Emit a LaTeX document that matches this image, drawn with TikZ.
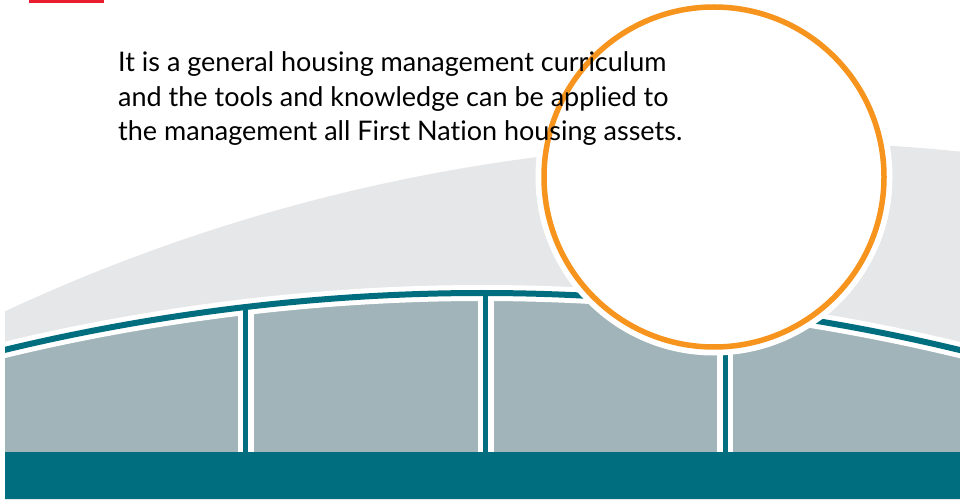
\documentclass[tikz,border=0pt]{standalone}
\usepackage{fontspec}
\setmainfont{Lato}[Ligatures=NoCommon]
\usepackage{tikz}
\usetikzlibrary{positioning}

\definecolor{archteal}{RGB}{0,110,127}
\definecolor{panegray}{RGB}{160,180,185}
\definecolor{hillgray}{RGB}{230,231,232}
\definecolor{ringorange}{RGB}{247,148,30}
\definecolor{tabred}{RGB}{232,28,46}

\begin{document}
\begin{tikzpicture}[
    x=1bp, y=-1bp,
    hill/.style={fill=hillgray},
    pane/.style={fill=panegray},
    rimwhite/.style={draw=white, line width=16bp},
    rimteal/.style={draw=archteal, line width=6bp},
    postwhite/.style={draw=white, line width=16bp},
    postteal/.style={draw=archteal, line width=5bp},
    ring/.style={draw=ringorange, line width=5.5bp},
    txt/.style={font=\fontsize{27bp}{35bp}\selectfont, anchor=base west, inner sep=0pt, text=black}
]
    \useasboundingbox (0,0) rectangle (960,502);

    % Red tab
    \fill[tabred] (29,0) rectangle (104,3);

    \begin{scope}
        \clip (5,0) rectangle (960,499);
        % Hill
        \fill[hill] (772,1959) circle[radius=1817bp];
        % Panes under the arch
        \fill[pane] (-20,356) parabola bend (482,293) (984,356) -- (984,452) -- (-20,452) -- cycle;
        % Arch rim and posts
        \draw[rimwhite] (-20,356) parabola bend (482,293) (984,356);
        \foreach \px/\py in {245.5/306, 485.5/293, 725/307}
            \draw[postwhite] (\px,\py) -- (\px,452);
        \draw[rimteal] (-20,356) parabola bend (482,293) (984,356);
        \foreach \px/\py in {245.5/306, 485.5/293, 725/307}
            \draw[postteal] (\px,\py) -- (\px,452);
        % Base bar
        \fill[archteal] (5,452) rectangle (960,499);
    \end{scope}

    % Lens
    \fill[white] (714,177) circle[radius=178.5bp];
    \draw[ring] (714,177) circle[radius=170bp];

    % Text
    \node[txt] (line1) at (118,72) {It is a general housing management curriculum};
    \node[txt] (line2) at (118,107) {and the tools and knowledge can be applied to};
    \node[txt] (line3) at (118,141) {the management all First Nation housing assets.};
\end{tikzpicture}
\end{document}
